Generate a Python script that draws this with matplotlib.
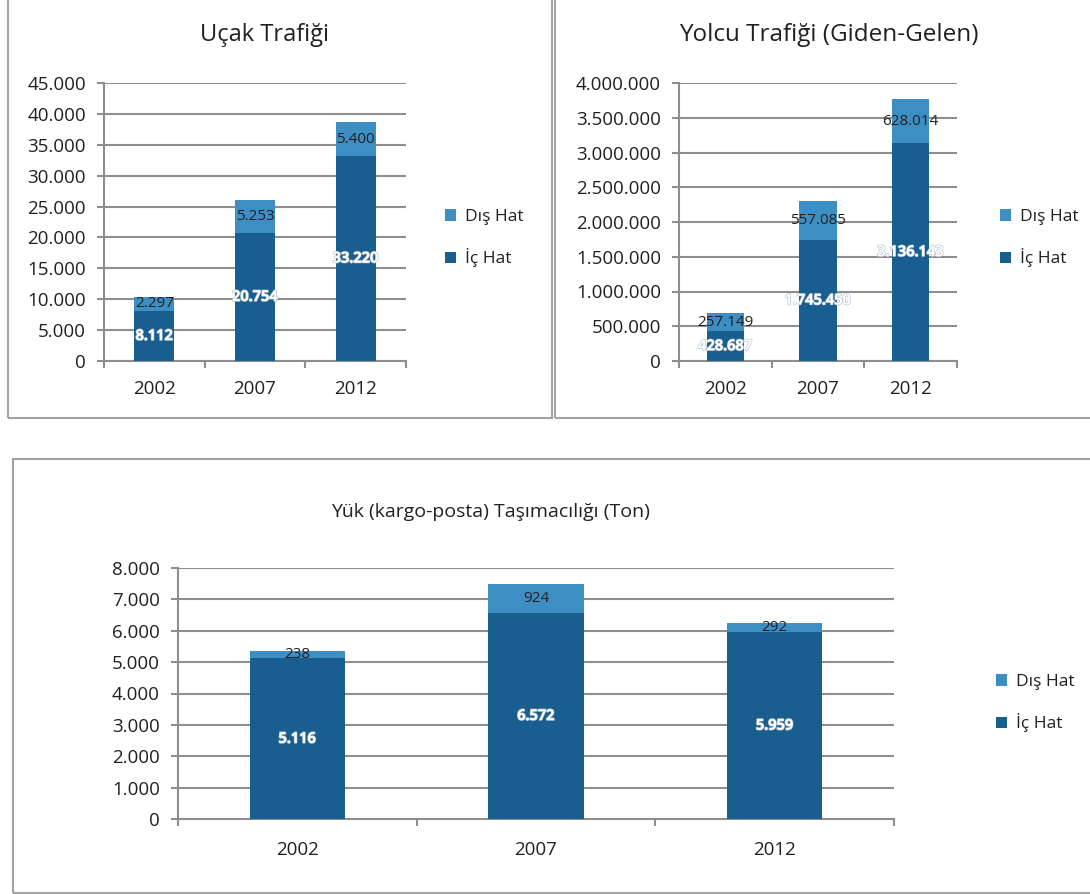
import matplotlib
matplotlib.use("Agg")
import matplotlib.pyplot as plt
import matplotlib.patches as mpatches
import matplotlib.patheffects as pe
from matplotlib.ticker import FuncFormatter, FixedLocator
import numpy as np

plt.rcParams['font.family'] = ['Open Sans', 'DejaVu Sans']

years = ['2002', '2007', '2012']
ucak_ic = [8112, 20754, 33220]
ucak_dis = [2297, 5253, 5400]
yolcu_ic = [428687, 1745450, 3136143]
yolcu_dis = [257149, 557085, 628014]
yuk_ic = [5116, 6572, 5959]
yuk_dis = [238, 924, 292]

DARK = '#185e8e'
LIGHT = '#3d8fc3'
GRID = '#8e8e8e'
BORDER = '#a3a3a3'
TXT = '#231f20'

W, H = 1090, 894
fig = plt.figure(figsize=(W / 100, H / 100), dpi=100)


def px_box(x0, y0, x1, y1):
    return [x0 / W, 1 - y1 / H, (x1 - x0) / W, (y1 - y0) / H]


def tr(v):
    return f"{int(v):,}".replace(",", ".")


# panel borders
for (x0, y0, x1, y1) in [(8, -5, 552, 418), (555, -5, 1100, 418), (13, 459, 1100, 893)]:
    fig.add_artist(mpatches.Rectangle((x0 / W, 1 - y1 / H), (x1 - x0) / W, (y1 - y0) / H,
                                      transform=fig.transFigure, fill=False,
                                      edgecolor=BORDER, linewidth=1.5))


def panel(box, ic, dis, ymax, step, legend_xy, title, title_xy, title_size, xpad):
    ax = fig.add_axes(px_box(*box))
    x = np.arange(len(years))
    b1 = ax.bar(x, ic, width=0.4, color=DARK, zorder=3, label='İç Hat')
    b2 = ax.bar(x, dis, width=0.4, bottom=ic, color=LIGHT, zorder=3, label='Dış Hat')
    txt1 = ax.bar_label(b1, labels=[tr(v) for v in ic], label_type='center',
                        color='white', fontsize=10.5, fontweight='semibold')
    for t in txt1:
        t.set_path_effects([pe.withStroke(linewidth=1.2, foreground='#b9c6d2'), pe.Normal()])
    ax.bar_label(b2, labels=[tr(v) for v in dis], label_type='center',
                 color=TXT, fontsize=11)
    ax.set_xlim(-0.5, len(years) - 0.5)
    ax.set_ylim(0, ymax)
    ax.set_yticks(np.arange(0, ymax + 1, step))
    ax.yaxis.set_major_formatter(FuncFormatter(lambda v, p: tr(v)))
    ax.yaxis.grid(True, color=GRID, linewidth=1.5, zorder=0)
    ax.set_axisbelow(True)
    ax.set_xticks(x)
    ax.set_xticklabels(years)
    ax.xaxis.set_minor_locator(FixedLocator(np.arange(-0.5, len(years), 1.0)))
    ax.tick_params(axis='x', which='major', length=0, pad=xpad, labelsize=13.5, labelcolor=TXT)
    ax.tick_params(axis='x', which='minor', length=5, width=1.5, color=GRID)
    ax.tick_params(axis='y', length=5, width=1.5, color=GRID, pad=8, labelsize=13.5, labelcolor=TXT)
    for s in ['top', 'right']:
        ax.spines[s].set_visible(False)
    for s in ['left', 'bottom']:
        ax.spines[s].set_color(GRID)
        ax.spines[s].set_linewidth(1.5)
    ax.legend(handles=[b2, b1], loc='upper left',
              bbox_to_anchor=(legend_xy[0] / W, 1 - legend_xy[1] / H),
              bbox_transform=fig.transFigure, frameon=False, fontsize=12.5,
              handlelength=0.65, handleheight=0.65, handletextpad=0.5,
              labelspacing=1.35, borderpad=0, borderaxespad=0, labelcolor=TXT)
    fig.text(title_xy[0] / W, 1 - title_xy[1] / H, title, ha='center', va='center',
             fontsize=title_size, color=TXT)
    return ax


panel((104, 83, 406, 361), ucak_ic, ucak_dis, 45000, 5000, (445, 209),
      'Uçak Trafiği', (265, 35), 17, 14)
panel((679, 83, 957, 361), yolcu_ic, yolcu_dis, 4000000, 500000, (1000, 209),
      'Yolcu Trafiği (Giden-Gelen)', (829, 35), 17.5, 14)
panel((178, 568, 894, 819), yuk_ic, yuk_dis, 8000, 1000, (996, 674),
      'Yük (kargo-posta) Taşımacılığı (Ton)', (490, 512), 14, 16)

fig.savefig('out.png', dpi=100)
